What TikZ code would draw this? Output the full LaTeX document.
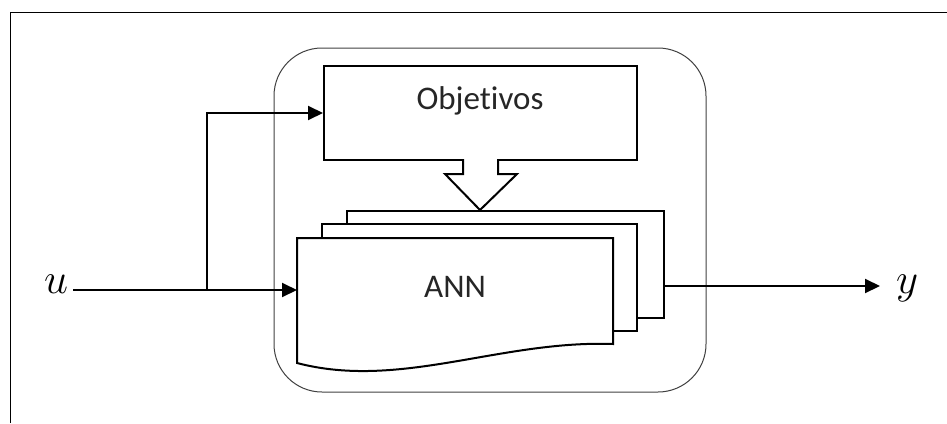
\RequirePackage{fix-cm}
\documentclass[tikz,border=0pt]{standalone}
\usepackage{fontspec}
\setmainfont[Ligatures=NoCommon]{Carlito}
\usetikzlibrary{arrows.meta}
\begin{document}
\begin{tikzpicture}[x=1pt,y=-1pt,
  thinline/.style={line width=1pt,draw=black!75},
  boxline/.style={line width=2pt,draw=black},
  sig/.style={line width=2pt,-{Triangle[length=15pt,width=14pt]}},
  lbl/.style={font=\fontsize{33}{36}\selectfont,text=black!85},
  siglbl/.style={font=\fontsize{43}{48}\selectfont,inner sep=0pt,anchor=base west}]
\useasboundingbox (0,0) rectangle (947,423);

% open frame (top and left edges only)
\draw[line width=1pt] (10,423) -- (10,12) -- (947,12);

% rounded container
\draw[thinline,rounded corners=48pt] (274,48) rectangle (706,392);

% objectives block
\node[boxline,draw,minimum width=313pt,minimum height=94pt,inner sep=0pt] (obj) at (480.5,113) {};
\node[lbl] (objtxt) at (480,101) {Objetivos};

% hollow block arrow from objectives to the network stack
\fill[white] (464.5,157) rectangle (496.5,163);
\draw[line width=2pt,fill=white,line join=miter]
  (463,159) -- (463,174) -- (445,174) -- (480,210) -- (517,174) -- (498,174) -- (498,159);

% stacked documents: back, middle, front
\draw[boxline,fill=white] (347,211) rectangle (664,318);
\draw[boxline,fill=white] (322,224) rectangle (637,331);
\draw[boxline,fill=white,line join=miter]
  (297,363) -- (297,238) -- (613,238) -- (613,344)
  .. controls (500,340) and (400,390) .. (297,363) -- cycle;
\node[lbl] (ann) at (455,287) {ANN};
\coordinate (annin) at (297,290);
\coordinate (annout) at (664,286);

% signals
\node[siglbl] (u) at (44,293) {$u$};
\coordinate (split) at (207,290);
\node[siglbl] (y) at (896,293) {$y$};
\coordinate (yend) at (880,286);

\draw[sig] (73,290) -- (annin);
\draw[sig] (split) |- (obj.west);
\draw[sig] (annout) -- (yend);
\end{tikzpicture}
\end{document}
